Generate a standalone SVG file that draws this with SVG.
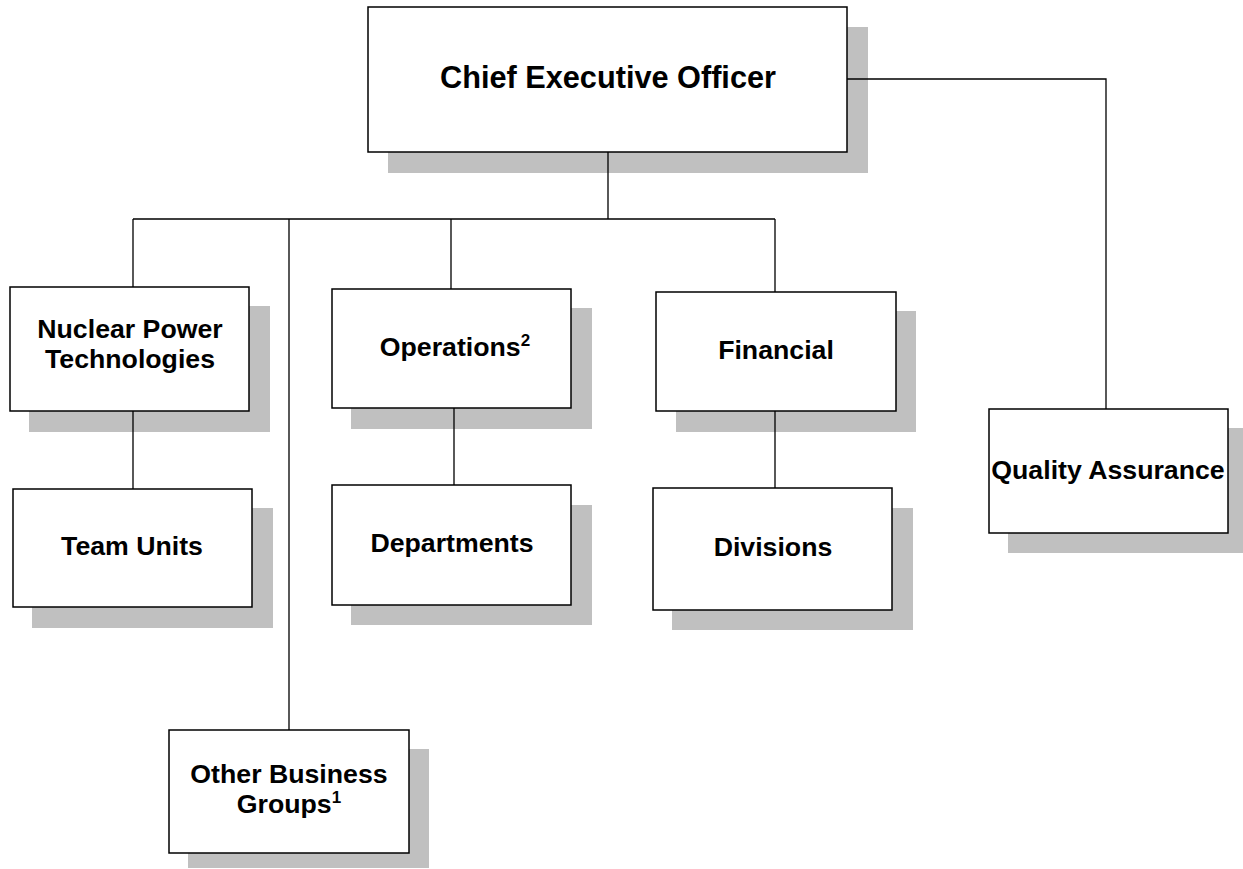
<svg xmlns="http://www.w3.org/2000/svg" width="1243" height="869" viewBox="0 0 1243 869">
<style>
.sh{fill:#c0c0c0;stroke:none}
.bx{fill:#fff;stroke:#000;stroke-width:1.5}
.t{font-family:"Liberation Sans",Arial,sans-serif;font-weight:bold;font-size:26.7px;fill:#000;text-anchor:middle}
.big{font-size:30.7px}
.sup{font-size:17px}
.cn{fill:none;stroke:#000;stroke-width:1.3}
</style>
<rect width="1243" height="869" fill="#fff"/>
<g id="ceo">
<rect class="sh" x="388" y="27" width="480" height="146"/>
<rect class="bx" x="368" y="7" width="479" height="145"/>
<text class="t big" x="608" y="88">Chief Executive Officer</text>
</g>
<g id="npt">
<rect class="sh" x="29" y="306" width="241" height="126"/>
<rect class="bx" x="10" y="287" width="239" height="124"/>
<text class="t" x="130" y="338">Nuclear Power</text>
<text class="t" x="130" y="368">Technologies</text>
</g>
<g id="teamunits">
<rect class="sh" x="32" y="508" width="241" height="120"/>
<rect class="bx" x="13" y="489" width="239" height="118"/>
<text class="t" x="132" y="555">Team Units</text>
</g>
<g id="operations">
<rect class="sh" x="351" y="308" width="241" height="121"/>
<rect class="bx" x="332" y="289" width="239" height="119"/>
<text class="t" x="455" y="356">Operations<tspan class="sup" dy="-10">2</tspan></text>
</g>
<g id="departments">
<rect class="sh" x="351" y="505" width="241" height="120"/>
<rect class="bx" x="332" y="485" width="239" height="120"/>
<text class="t" x="452" y="552">Departments</text>
</g>
<g id="financial">
<rect class="sh" x="676" y="311" width="240" height="121"/>
<rect class="bx" x="656" y="292" width="240" height="119"/>
<text class="t" x="776" y="359">Financial</text>
</g>
<g id="divisions">
<rect class="sh" x="672" y="508" width="241" height="122"/>
<rect class="bx" x="653" y="488" width="239" height="122"/>
<text class="t" x="773" y="556">Divisions</text>
</g>
<g id="qa">
<rect class="sh" x="1008" y="428" width="240" height="125"/>
<rect class="bx" x="989" y="409" width="239" height="124"/>
<text class="t" x="1108" y="479">Quality Assurance</text>
</g>
<g id="obg">
<rect class="sh" x="188" y="749" width="241" height="119"/>
<rect class="bx" x="169" y="730" width="240" height="123"/>
<text class="t" x="289" y="783">Other Business</text>
<text class="t" x="289" y="813">Groups<tspan class="sup" dy="-10">1</tspan></text>
</g>
<g id="connectors">
<path class="cn" d="M608 152V219M133 219H775M133 219V287M289 219V730M451 219V289M775 219V292"/>
<path class="cn" d="M133 411V489M454 408V485M775 411V488"/>
<path class="cn" d="M847 79H1106V409"/>
</g>
</svg>
